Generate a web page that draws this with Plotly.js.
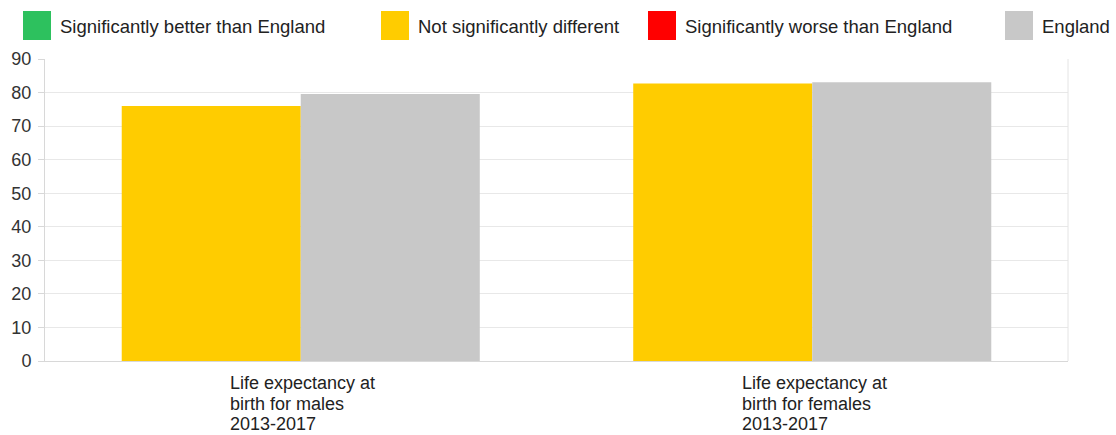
<!DOCTYPE html>
<html>
<head>
<meta charset="utf-8">
<script src="https://cdn.plot.ly/plotly-3.0.1.min.js"></script>
<style>
html,body{margin:0;padding:0;background:#fff;}
#chart{width:1116px;height:435px;}
</style>
</head>
<body>
<div id="chart"></div>
<script>
const categories = ["Life expectancy at<br>birth for males<br>2013-2017", "Life expectancy at<br>birth for females<br>2013-2017"];
const areaValues = [76.0, 82.7];
const areaColours = ["#FFCC00", "#FFCC00"];
const englandValues = [79.6, 83.1];
const legendLabels = ["Significantly better than England", "Not significantly different", "Significantly worse than England", "England"];
const legendColours = ["#2DC15E", "#FFCC00", "#FF0000", "#C8C8C8"];
const yTicks = [0, 10, 20, 30, 40, 50, 60, 70, 80, 90];

const FONT = "Liberation Sans, Arial, sans-serif";
const LABEL_SIZE = 18;

const traces = [
  {type: "bar", x: categories, y: areaValues, marker: {color: areaColours}, showlegend: false, hoverinfo: "y"},
  {type: "bar", x: categories, y: englandValues, marker: {color: "#C8C8C8"}, showlegend: false, hoverinfo: "y"}
];

// custom legend
const legendSquareX = [23, 381, 648, 1005];
const shapes = [];
const annotations = [];
legendLabels.forEach((lab, i) => {
  const x0 = legendSquareX[i];
  shapes.push({type: "rect", xref: "paper", yref: "paper",
    x0: (x0 - 45) / 1023, x1: (x0 + 28 - 45) / 1023,
    y0: (361 - 40) / 302, y1: (361 - 11) / 302,
    fillcolor: legendColours[i], line: {width: 0}});
  annotations.push({xref: "paper", yref: "paper", x: (x0 + 35 - 45) / 1023, y: (361 - 26) / 302,
    xanchor: "left", yanchor: "middle", showarrow: false, text: lab,
    font: {family: FONT, size: 18.5, color: "#222"}});
});

// category labels, left aligned block, tight line spacing
const ctx = document.createElement("canvas").getContext("2d");
ctx.font = LABEL_SIZE + "px 'Liberation Sans'";
categories.forEach((c) => {
  const lines = c.split("<br>");
  const maxW = Math.max(...lines.map(l => ctx.measureText(l).width));
  lines.forEach((ln, j) => {
    annotations.push({xref: "x", yref: "paper", x: c, y: 0, yshift: -22 - 20.5 * j,
      xshift: -maxW / 2, xanchor: "left", yanchor: "middle",
      showarrow: false, text: ln, font: {family: FONT, size: LABEL_SIZE, color: "#222"}});
  });
});
// frame on right
shapes.push({type: "line", xref: "paper", yref: "paper", x0: 1, x1: 1, y0: 0, y1: 1, line: {color: "#e4e4e4", width: 1}});

const layout = {
  width: 1116, height: 435,
  margin: {l: 45, r: 48, t: 59, b: 74, pad: 0},
  paper_bgcolor: "#fff", plot_bgcolor: "#fff",
  barmode: "group", bargap: 0.3, bargroupgap: 0,
  showlegend: false,
  xaxis: {showticklabels: false, showgrid: false, showline: true, linecolor: "#d8d8d8", linewidth: 1, ticks: "", fixedrange: true},
  yaxis: {range: [0, 90], tickvals: yTicks, ticktext: yTicks.map(String), showgrid: true, gridcolor: "#e8e8e8",
    showline: true, linecolor: "#d8d8d8", ticks: "outside", ticklen: 6, tickcolor: "#d8d8d8",
    ticklabelstandoff: 3,
    tickfont: {family: FONT, size: 18, color: "#333"}, zeroline: false, fixedrange: true},
  shapes: shapes,
  annotations: annotations,
  font: {family: FONT}
};

Plotly.newPlot("chart", traces, layout, {displayModeBar: false, staticPlot: true});
</script>
</body>
</html>
